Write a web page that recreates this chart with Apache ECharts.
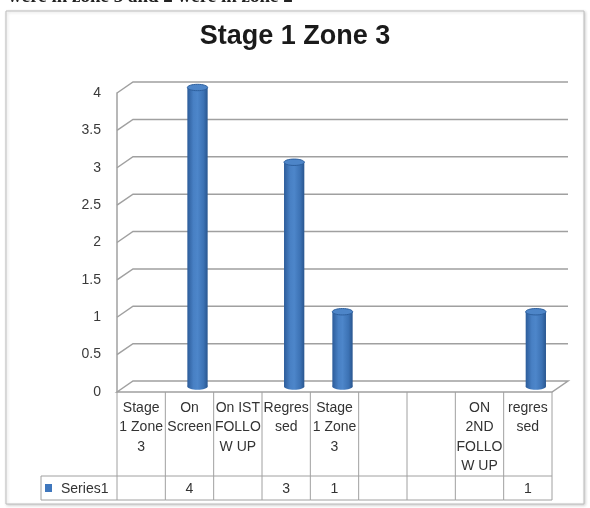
<!DOCTYPE html>
<html>
<head>
<meta charset="utf-8">
<script src="https://cdn.jsdelivr.net/npm/echarts@6/dist/echarts.min.js"></script>
<style>
  html, body { margin: 0; padding: 0; background: #ffffff; }
  #chart { width: 590px; height: 508px; }
</style>
</head>
<body>
<div id="chart"></div>
<script>
// Category labels as they wrap inside the data table cells
const categoryLines = [
  ['Stage', '1 Zone', '3'],
  ['On', 'Screen'],
  ['On IST', 'FOLLO', 'W UP'],
  ['Regres', 'sed'],
  ['Stage', '1 Zone', '3'],
  [],
  [],
  ['ON', '2ND', 'FOLLO', 'W UP'],
  ['regres', 'sed']
];
const series1 = [null, 4, null, 3, 1, null, null, null, 1];
const yTicks = [0, 0.5, 1, 1.5, 2, 2.5, 3, 3.5, 4];
const seriesName = 'Series1';
const titleText = 'Stage 1 Zone 3';
const captionText = 'were in zone 3 and 2 were in zone 2';

const categories = categoryLines.map(l => l.join('\n'));
const n = categories.length;

// 3D depth offset of the back wall relative to the front plane
const DX = 16, DY = -11;
const GRID_COLOR = '#a0a0a0';
const FONT = 'Liberation Sans, Arial, sans-serif';

function seg(x1, y1, x2, y2, color, width) {
  return { type: 'line', shape: { x1, y1, x2, y2 },
           style: { stroke: color || GRID_COLOR, lineWidth: width || 1 } };
}

// Side wall, back wall and floor outlines of the 3D plot area
function renderWalls(params, api) {
  const w = api.size([1, 0])[0];
  const xL = api.coord([0, 0])[0] - w / 2;
  const xR = api.coord([n - 1, 0])[0] + w / 2;
  const children = [];
  yTicks.forEach(t => {
    const y = api.coord([0, t])[1];
    if (t === 0) {
      children.push({ type: 'polygon',
        shape: { points: [[xL, y], [xL + DX, y + DY], [xR + DX, y + DY], [xR, y]] },
        style: { fill: 'none', stroke: GRID_COLOR, lineWidth: 1.5 } });
    } else {
      children.push({ type: 'polyline',
        shape: { points: [[xL, y], [xL + DX, y + DY], [xR + DX, y + DY]] },
        style: { fill: 'none', stroke: GRID_COLOR, lineWidth: 1.5 } });
    }
  });
  return { type: 'group', children };
}

// Cylinder columns standing halfway into the depth
function renderCylinder(params, api) {
  const i = api.value(0), v = api.value(1);
  const base = api.coord([i, 0]);
  const top = api.coord([i, v]);
  const w = api.size([1, 0])[0] * 0.42;
  const rx = w / 2, ry = 3.2;
  const cx = base[0] + DX / 2;
  const by = base[1] + DY / 2;
  const ty = top[1] + DY / 2;
  const body = () => new echarts.graphic.LinearGradient(0, 0, 1, 0, [
    { offset: 0, color: '#2c5c9a' },
    { offset: 0.3, color: '#4880c4' },
    { offset: 0.5, color: '#4d86ca' },
    { offset: 0.8, color: '#3c72b4' },
    { offset: 1, color: '#29568f' }
  ]);
  return {
    type: 'group',
    children: [
      { type: 'ellipse', shape: { cx, cy: by, rx, ry }, style: { fill: body() } },
      { type: 'rect', shape: { x: cx - rx, y: ty, width: w, height: by - ty }, style: { fill: body() } },
      { type: 'ellipse', shape: { cx, cy: ty, rx, ry },
        style: { fill: '#4d85c8', stroke: '#2d5f9d', lineWidth: 1 } }
    ]
  };
}

// Data table beneath the plot: cell borders, values and legend key
function renderTable(params, api) {
  const i = params.dataIndex;
  const base = api.coord([i, 0]);
  const w = api.size([1, 0])[0];
  const left = base[0] - w / 2, right = base[0] + w / 2;
  const y0 = base[1], yRow = y0 + 84, yEnd = y0 + 108;
  const ch = [
    seg(left, y0, left, yEnd),
    seg(left, yRow, right, yRow),
    seg(left, yEnd, right, yEnd)
  ];
  if (i === n - 1) ch.push(seg(right, y0, right, yEnd));
  const v = series1[i];
  if (v != null) {
    ch.push({ type: 'text', style: { text: String(v), x: base[0], y: (yRow + yEnd) / 2 + 1,
      align: 'center', verticalAlign: 'middle', fontSize: 14, fontFamily: FONT, fill: '#333333' } });
  }
  if (i === 0) {
    const xKey = 41;
    ch.push(seg(xKey, yRow, left, yRow));
    ch.push(seg(xKey, yEnd, left, yEnd));
    ch.push(seg(xKey, yRow, xKey, yEnd));
    const cy = (yRow + yEnd) / 2;
    ch.push({ type: 'rect', shape: { x: xKey + 4, y: cy - 4, width: 7, height: 8 },
      style: { fill: '#3f77bd' } });
    ch.push({ type: 'text', style: { text: seriesName, x: xKey + 20, y: cy + 1,
      align: 'left', verticalAlign: 'middle', fontSize: 14, fontFamily: FONT, fill: '#333333' } });
  }
  return { type: 'group', children: ch };
}

const chart = echarts.init(document.getElementById('chart'), null, { renderer: 'canvas' });
chart.setOption({
  animation: false,
  backgroundColor: '#ffffff',
  title: {
    text: titleText,
    left: 'center',
    top: 16,
    textStyle: { fontSize: 27, fontWeight: 'bold', fontFamily: FONT, color: '#1a1a1a', lineHeight: 32 }
  },
  graphic: [
    { type: 'rect', z: 0, shape: { x: 6, y: 11, width: 578, height: 493 },
      style: { fill: '#ffffff', stroke: '#bdbdbd', lineWidth: 1,
               shadowBlur: 3, shadowColor: 'rgba(0,0,0,0.18)', shadowOffsetX: 1, shadowOffsetY: 1 } },
    { type: 'text', z: 1, x: 8, y: -12,
      style: { text: captionText, fontSize: 19, fontWeight: 'bold',
               fontFamily: 'Liberation Serif, serif', fill: '#222222' } }
  ],
  grid: { left: 117, right: 38, top: 93, bottom: 116 },
  xAxis: {
    type: 'category',
    data: categories,
    axisLine: { show: false },
    axisTick: { show: false },
    splitLine: { show: false },
    axisLabel: { interval: 0, margin: 6, fontSize: 14, lineHeight: 19.5,
                 fontFamily: FONT, color: '#333333' }
  },
  yAxis: {
    type: 'value',
    min: 0, max: 4, interval: 0.5,
    axisLine: { show: true, lineStyle: { color: GRID_COLOR, width: 1.5 } },
    axisTick: { show: false },
    splitLine: { show: false },
    axisLabel: { margin: 16, fontSize: 14, fontFamily: FONT, color: '#3a3a3a' }
  },
  series: [
    { type: 'custom', name: 'walls', z: 1, silent: true,
      data: [[0, 0]], renderItem: renderWalls },
    { type: 'custom', name: 'table', z: 1, silent: true,
      data: categories.map((c, i) => [i, 0]), renderItem: renderTable },
    { type: 'custom', name: seriesName, z: 3,
      data: series1.map((v, i) => [i, v]).filter(d => d[1] != null),
      encode: { x: 0, y: 1 },
      renderItem: renderCylinder }
  ]
});
</script>
</body>
</html>
